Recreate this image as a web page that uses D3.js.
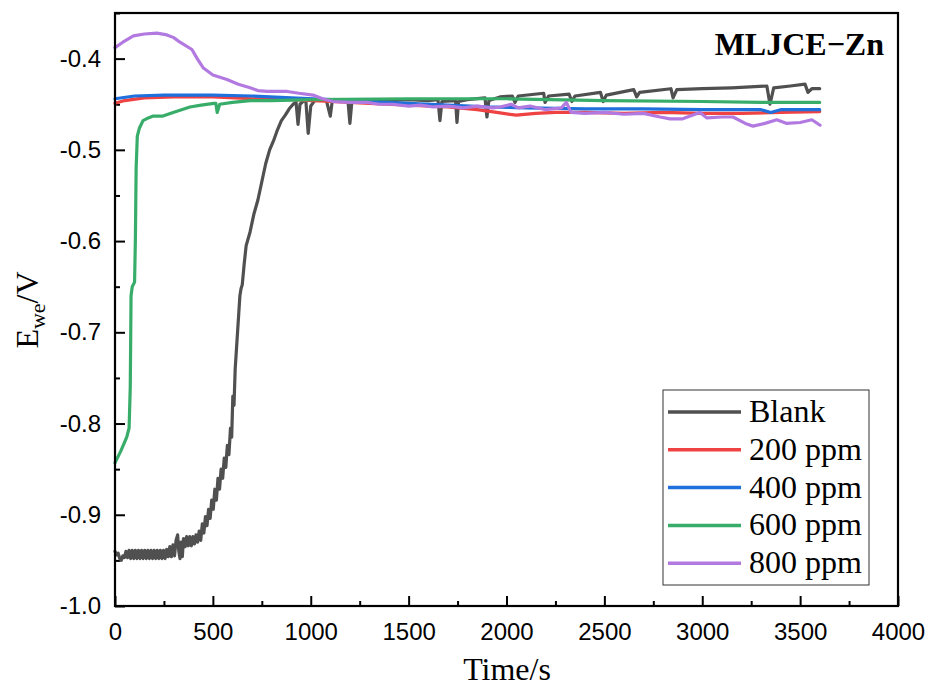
<!DOCTYPE html>
<html>
<head>
<meta charset="utf-8">
<script src="https://cdn.jsdelivr.net/npm/d3@7"></script>
<style>
  html, body { margin: 0; padding: 0; background: #fff; }
  svg { display: block; }
</style>
</head>
<body>
<svg id="chart" width="930" height="689"></svg>
<script>
// ---------------- DATA ----------------
const seriesNames = ["Blank", "200 ppm", "400 ppm", "600 ppm", "800 ppm"];
const seriesColors = ["#505050", "#ef4242", "#1f6fdc", "#38ad6a", "#b27ae0"];

const xTicks = [0, 500, 1000, 1500, 2000, 2500, 3000, 3500, 4000];
const yTicks = [-1.0, -0.9, -0.8, -0.7, -0.6, -0.5, -0.4];

const blankT = [0, 8, 16, 24, 32, 40, 48, 56, 64, 72, 80, 88, 96, 104, 112, 120, 128, 136, 144, 152, 160, 168, 176, 184, 192, 200, 208, 216, 224, 232, 240, 248, 256, 264, 272, 280, 288, 296, 304, 312, 320, 326, 332, 338, 344, 350, 358, 366, 374, 382, 390, 398, 406, 414, 422, 430, 438, 446, 454, 462, 470, 478, 486, 494, 502, 510, 518, 526, 534, 542, 550, 558, 566, 574, 582, 590, 596, 602, 608, 614, 620, 626, 632, 638, 644, 650, 660, 670, 690, 710, 730, 750, 770, 790, 810, 830, 850, 870, 890, 910, 925, 935, 945, 960, 975, 987, 1000, 1020, 1050, 1080, 1100, 1110, 1150, 1190, 1200, 1210, 1250, 1300, 1400, 1500, 1600, 1650, 1660, 1670, 1740, 1747, 1755, 1800, 1890, 1900, 1910, 1967, 2030, 2043, 2060, 2190, 2197, 2215, 2320, 2334, 2350, 2480, 2494, 2510, 2650, 2665, 2680, 2840, 2851, 2870, 3000, 3150, 3330, 3346, 3365, 3450, 3525, 3540, 3560, 3600];
const blankV = [-0.940, -0.944, -0.942, -0.948, -0.950, -0.945, -0.947, -0.940, -0.947, -0.939, -0.948, -0.939, -0.948, -0.939, -0.948, -0.939, -0.948, -0.939, -0.948, -0.939, -0.948, -0.939, -0.948, -0.939, -0.948, -0.939, -0.948, -0.939, -0.948, -0.939, -0.948, -0.939, -0.948, -0.938, -0.946, -0.935, -0.946, -0.933, -0.945, -0.928, -0.922, -0.940, -0.948, -0.930, -0.946, -0.926, -0.935, -0.924, -0.934, -0.924, -0.934, -0.924, -0.932, -0.922, -0.930, -0.918, -0.928, -0.910, -0.920, -0.902, -0.912, -0.894, -0.904, -0.884, -0.894, -0.872, -0.884, -0.860, -0.872, -0.850, -0.860, -0.838, -0.848, -0.824, -0.834, -0.805, -0.815, -0.770, -0.780, -0.740, -0.720, -0.700, -0.680, -0.660, -0.652, -0.648, -0.625, -0.605, -0.590, -0.570, -0.555, -0.535, -0.515, -0.500, -0.490, -0.478, -0.468, -0.462, -0.455, -0.450, -0.448, -0.472, -0.450, -0.447, -0.446, -0.482, -0.452, -0.446, -0.445, -0.446, -0.463, -0.446, -0.445, -0.446, -0.471, -0.447, -0.447, -0.446, -0.446, -0.445, -0.446, -0.445, -0.468, -0.447, -0.446, -0.470, -0.447, -0.445, -0.443, -0.464, -0.446, -0.442, -0.441, -0.448, -0.441, -0.438, -0.448, -0.441, -0.439, -0.447, -0.441, -0.437, -0.447, -0.440, -0.434, -0.442, -0.437, -0.433, -0.443, -0.434, -0.433, -0.432, -0.430, -0.450, -0.432, -0.430, -0.428, -0.437, -0.433, -0.433];

const ppm200T = [0, 50, 150, 300, 500, 700, 900, 1100, 1300, 1500, 1700, 1850, 1950, 2050, 2150, 2250, 2400, 2600, 2800, 3000, 3200, 3400, 3600];
const ppm200V = [-0.449, -0.446, -0.443, -0.442, -0.442, -0.444, -0.445, -0.447, -0.449, -0.451, -0.453, -0.456, -0.459, -0.462, -0.460, -0.459, -0.459, -0.460, -0.459, -0.460, -0.460, -0.459, -0.458];

const ppm400T = [0, 100, 250, 500, 700, 900, 1100, 1300, 1500, 1700, 1900, 2100, 2400, 2700, 3000, 3300, 3350, 3400, 3600];
const ppm400V = [-0.444, -0.441, -0.440, -0.440, -0.441, -0.443, -0.445, -0.447, -0.449, -0.451, -0.453, -0.454, -0.455, -0.455, -0.456, -0.456, -0.459, -0.456, -0.456];

const ppm600T = [0, 30, 60, 72, 78, 82, 88, 100, 104, 108, 114, 125, 143, 170, 195, 245, 297, 340, 383, 440, 505, 515, 522, 535, 600, 690, 800, 1000, 1500, 2000, 2500, 3000, 3300, 3600];
const ppm600V = [-0.843, -0.830, -0.815, -0.805, -0.760, -0.660, -0.650, -0.645, -0.600, -0.520, -0.485, -0.476, -0.468, -0.465, -0.463, -0.463, -0.459, -0.456, -0.453, -0.451, -0.449, -0.449, -0.459, -0.450, -0.448, -0.446, -0.446, -0.445, -0.444, -0.444, -0.446, -0.447, -0.448, -0.448];

const ppm800T = [0, 40, 94, 150, 214, 265, 300, 332, 393, 420, 450, 500, 572, 630, 690, 730, 776, 840, 880, 940, 1012, 1060, 1114, 1200, 1287, 1350, 1420, 1500, 1560, 1625, 1700, 1780, 1850, 1930, 1967, 2024, 2060, 2120, 2200, 2280, 2306, 2330, 2400, 2500, 2600, 2700, 2784, 2836, 2900, 2988, 3024, 3100, 3157, 3220, 3259, 3320, 3381, 3432, 3500, 3560, 3602];
const ppm800V = [-0.388, -0.382, -0.375, -0.373, -0.372, -0.374, -0.377, -0.382, -0.390, -0.400, -0.410, -0.418, -0.423, -0.428, -0.432, -0.435, -0.436, -0.436, -0.436, -0.438, -0.440, -0.444, -0.447, -0.448, -0.448, -0.450, -0.450, -0.452, -0.451, -0.453, -0.452, -0.454, -0.452, -0.454, -0.453, -0.450, -0.454, -0.452, -0.456, -0.454, -0.448, -0.459, -0.460, -0.459, -0.461, -0.460, -0.464, -0.466, -0.466, -0.459, -0.465, -0.464, -0.464, -0.471, -0.474, -0.471, -0.467, -0.471, -0.470, -0.467, -0.473];

const seriesT = [blankT, ppm200T, ppm400T, ppm600T, ppm800T];
const seriesV = [blankV, ppm200V, ppm400V, ppm600V, ppm800V];

// ---------------- LAYOUT ----------------
const svg = d3.select("#chart");
const L = 115, R = 898, T = 13, B = 606;

const x = d3.scaleLinear().domain([0, 4000]).range([L, R]);
const y = d3.scaleLinear().domain([-1.0, -0.35]).range([B, T]);

const loc = d3.formatLocale({decimal: ".", thousands: ",", grouping: [3], currency: ["", ""], minus: "-"});
const fy = loc.format(".1f");

// minor ticks
const xMinor = d3.range(250, 4000, 500);
const yMinor = d3.range(-0.95, -0.34, 0.1);

svg.append("g")
  .attr("transform", `translate(0,${B})`)
  .call(d3.axisBottom(x).tickValues(xMinor).tickSize(-5).tickFormat(""))
  .call(g => g.select(".domain").remove())
  .selectAll("line").attr("stroke", "#000").attr("stroke-width", 2);

svg.append("g")
  .attr("transform", `translate(${L},0)`)
  .call(d3.axisLeft(y).tickValues(yMinor).tickSize(-5).tickFormat(""))
  .call(g => g.select(".domain").remove())
  .selectAll("line").attr("stroke", "#000").attr("stroke-width", 2);

// lines
const line = d3.line().x(d => x(d[0])).y(d => y(d[1]));
seriesNames.forEach((name, i) => {
  const pts = seriesT[i].map((t, k) => [t, seriesV[i][k]]);
  svg.append("path")
    .datum(pts)
    .attr("fill", "none")
    .attr("stroke", seriesColors[i])
    .attr("stroke-width", 3.2)
    .attr("stroke-linejoin", "round")
    .attr("stroke-linecap", "round")
    .attr("d", line);
});

// major axes
const xAxis = svg.append("g")
  .attr("transform", `translate(0,${B})`)
  .call(d3.axisBottom(x).tickValues(xTicks).tickSize(-10).tickPadding(17).tickFormat(d3.format("d")));
const yAxis = svg.append("g")
  .attr("transform", `translate(${L},0)`)
  .call(d3.axisLeft(y).tickValues(yTicks).tickSize(-10).tickPadding(14).tickFormat(fy));

[xAxis, yAxis].forEach(g => {
  g.select(".domain").remove();
  g.selectAll("line").attr("stroke", "#000").attr("stroke-width", 2);
  g.selectAll("text")
    .attr("fill", "#000")
    .style("font-family", "'Liberation Sans', Arial, sans-serif")
    .style("font-size", "24px");
});

// frame
svg.append("rect")
  .attr("x", L).attr("y", T)
  .attr("width", R - L).attr("height", B - T)
  .attr("fill", "none").attr("stroke", "#000").attr("stroke-width", 2.2);

// title
svg.append("text")
  .attr("x", 884).attr("y", 55)
  .attr("text-anchor", "end")
  .style("font-family", "'Liberation Serif', 'Times New Roman', serif")
  .style("font-weight", "bold")
  .style("font-size", "32px")
  .text("MLJCE\u2212Zn");

// axis titles
svg.append("text")
  .attr("x", 507).attr("y", 680)
  .attr("text-anchor", "middle")
  .style("font-family", "'Liberation Serif', 'Times New Roman', serif")
  .style("font-size", "32px")
  .text("Time/s");

const yt = svg.append("text")
  .attr("transform", "translate(38,310) rotate(-90)")
  .attr("text-anchor", "middle")
  .style("font-family", "'Liberation Serif', 'Times New Roman', serif")
  .style("font-size", "32px");
yt.append("tspan").text("E");
yt.append("tspan").attr("dy", 7).style("font-size", "22px").text("we");
yt.append("tspan").attr("dy", -7).text("/V");

// legend
const lg = svg.append("g");
lg.append("rect")
  .attr("x", 663).attr("y", 390)
  .attr("width", 206).attr("height", 195)
  .attr("fill", "#fff").attr("stroke", "#333").attr("stroke-width", 1);
seriesNames.forEach((name, i) => {
  const cy = 412 + i * 37.8;
  lg.append("line")
    .attr("x1", 668).attr("x2", 741)
    .attr("y1", cy).attr("y2", cy)
    .attr("stroke", seriesColors[i]).attr("stroke-width", 3.5);
  lg.append("text")
    .attr("x", 749).attr("y", cy + 10)
    .style("font-family", "'Liberation Serif', 'Times New Roman', serif")
    .style("font-size", "32px")
    .text(name);
});
</script>
</body>
</html>
